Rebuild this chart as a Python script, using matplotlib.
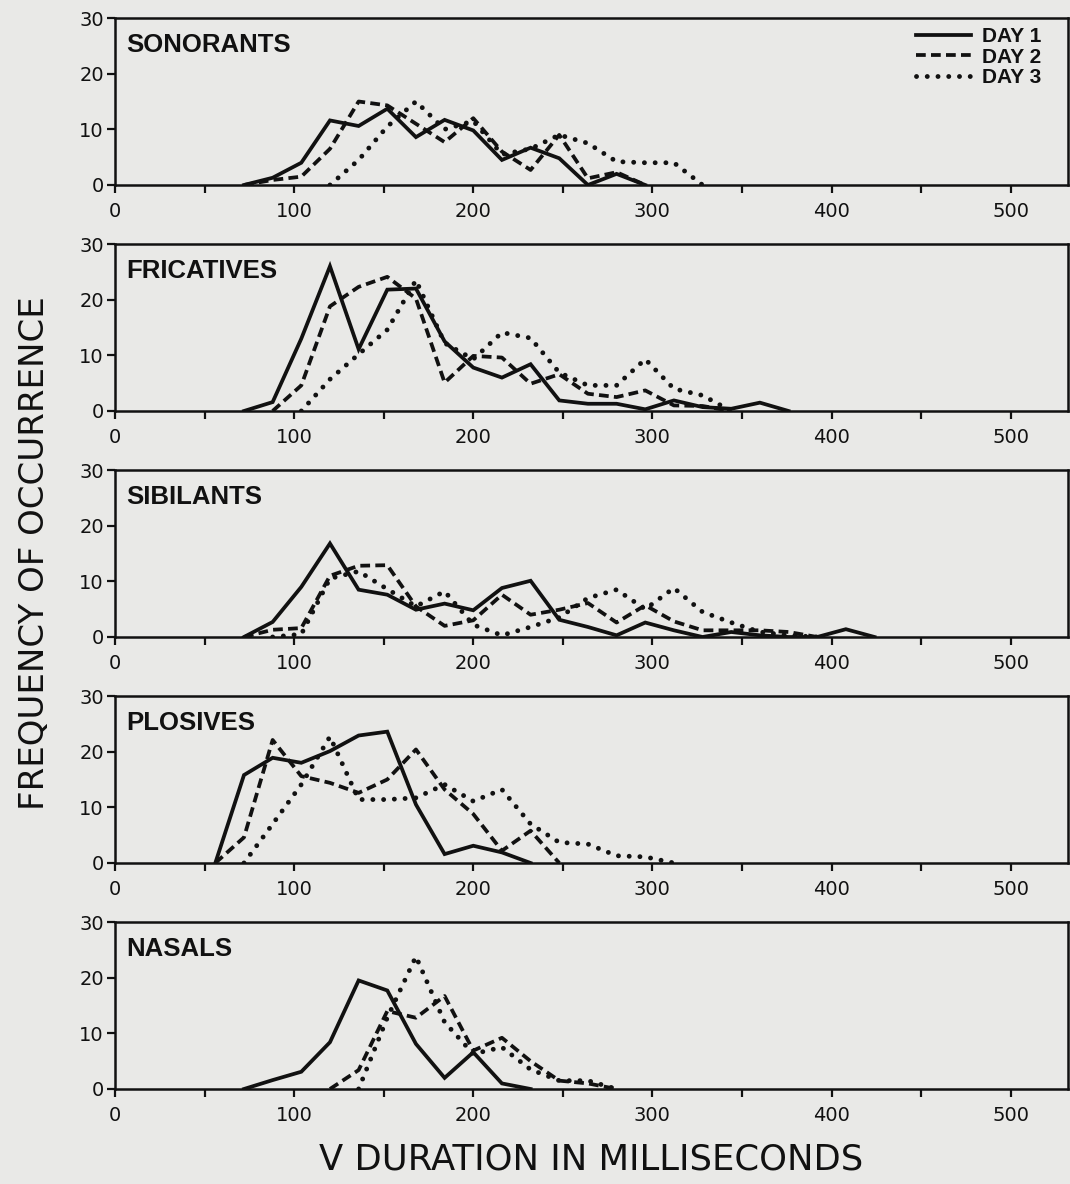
import numpy as np
import matplotlib
matplotlib.use("Agg")
import matplotlib.pyplot as plt
from matplotlib.ticker import MultipleLocator

nan = np.nan

# ---------------- data ----------------
panel_names = ["SONORANTS", "FRICATIVES", "SIBILANTS", "PLOSIVES", "NASALS"]
legend_labels = ["DAY 1", "DAY 2", "DAY 3"]

sonorants_ms = [72, 88, 104, 120, 136, 152, 168, 184, 200, 216, 232, 248, 264, 280, 296, 312, 328]
sonorants_day1 = [0, 1.3, 4.0, 11.6, 10.6, 13.7, 8.6, 11.7, 9.8, 4.5, 6.7, 4.8, 0, 2.0, 0, nan, nan]
sonorants_day2 = [0, 0.9, 1.5, 6.5, 15.0, 14.3, 11.0, 7.7, 12.0, 6.0, 2.7, 9.0, 1.2, 2.3, 0, nan, nan]
sonorants_day3 = [nan, nan, nan, 0, 4.5, 10.5, 15.0, 10.0, 11.5, 5.5, 6.5, 9.0, 7.5, 4.2, 4.0, 4.0, 0]

fricatives_ms = [72, 88, 104, 120, 136, 152, 168, 184, 200, 216, 232, 248, 264, 280, 296, 312, 328, 344, 360, 376]
fricatives_day1 = [0, 1.6, 13.0, 26.0, 11.1, 21.8, 22.0, 12.5, 7.8, 6.0, 8.4, 1.9, 1.3, 1.3, 0.3, 1.9, 0.7, 0.4, 1.5, 0]
fricatives_day2 = [nan, 0, 4.6, 18.8, 22.3, 24.1, 20.2, 5.1, 9.9, 9.6, 4.9, 6.6, 3.1, 2.5, 3.7, 1.0, 0.9, 0, nan, nan]
fricatives_day3 = [nan, nan, 0, 5.7, 10.2, 14.6, 23.5, 12.2, 9.3, 14.1, 13.1, 6.9, 4.6, 4.6, 9.3, 4.0, 2.8, 0, nan, nan]

sibilants_ms = [72, 88, 104, 120, 136, 152, 168, 184, 200, 216, 232, 248, 264, 280, 296, 312, 328, 344, 360, 376, 392, 408, 424]
sibilants_day1 = [0, 2.7, 9.0, 16.8, 8.5, 7.6, 4.9, 6.0, 4.8, 8.8, 10.1, 3.1, 1.8, 0.3, 2.6, 1.2, 0, 0.9, 0.3, 0, 0, 1.4, 0]
sibilants_day2 = [0, 1.3, 1.6, 11.0, 12.8, 12.9, 5.5, 2.0, 3.0, 7.6, 4.0, 4.9, 6.1, 2.6, 5.7, 2.8, 1.2, 1.2, 1.2, 0.9, 0, nan, nan]
sibilants_day3 = [nan, 0, 0.5, 10.5, 11.8, 8.6, 5.5, 8.2, 2.2, 0.3, 1.8, 3.5, 7.0, 8.5, 5.0, 8.8, 4.5, 2.6, 0.9, 0.3, 0, nan, nan]

plosives_ms = [56, 72, 88, 104, 120, 136, 152, 168, 184, 200, 216, 232, 248, 264, 280, 296, 312]
plosives_day1 = [0, 15.8, 18.9, 18.0, 20.1, 22.9, 23.6, 10.5, 1.6, 3.1, 1.9, 0, nan, nan, nan, nan, nan]
plosives_day2 = [0, 4.6, 22.1, 15.6, 14.4, 12.6, 15.0, 20.4, 13.2, 8.8, 2.2, 5.8, 0, nan, nan, nan, nan]
plosives_day3 = [nan, 0, 7.0, 14.1, 22.7, 11.4, 11.4, 11.7, 14.1, 11.1, 13.2, 7.0, 3.7, 3.4, 1.3, 1.1, 0]

nasals_ms = [72, 88, 104, 120, 136, 152, 168, 184, 200, 216, 232, 248, 264, 280]
nasals_day1 = [0, 1.6, 3.1, 8.4, 19.5, 17.7, 8.1, 2.0, 6.6, 1.0, 0, nan, nan, nan]
nasals_day2 = [nan, nan, nan, 0, 3.4, 14.0, 12.8, 16.7, 6.9, 9.2, 5.0, 1.5, 1.0, 0]
nasals_day3 = [nan, nan, nan, nan, 0, 12.8, 23.8, 12.0, 6.3, 7.5, 3.5, 1.5, 1.5, 0]

x_ticks = [0, 100, 200, 300, 400, 500]
y_ticks = [0, 10, 20, 30]

panels = [
    (sonorants_ms, sonorants_day1, sonorants_day2, sonorants_day3),
    (fricatives_ms, fricatives_day1, fricatives_day2, fricatives_day3),
    (sibilants_ms, sibilants_day1, sibilants_day2, sibilants_day3),
    (plosives_ms, plosives_day1, plosives_day2, plosives_day3),
    (nasals_ms, nasals_day1, nasals_day2, nasals_day3),
]

# ---------------- style ----------------
BG = "#e9e9e7"
INK = "#111111"
W, H = 1070, 1184
fig = plt.figure(figsize=(W / 100, H / 100), dpi=100, facecolor=BG)

left_px, right_px = 115, 1068
tops_px = [18, 244, 470, 696, 922]
height_px = 167

styles = [
    dict(linestyle="-", linewidth=2.7, solid_joinstyle="miter"),
    dict(linestyle=(0, (2.6, 1.4)), linewidth=2.7, dash_capstyle="butt"),
    dict(linestyle=(0, (0.01, 2.2)), linewidth=3.5, dash_capstyle="round"),
]

title_font = dict(family=["Liberation Sans", "DejaVu Sans"], weight="bold", size=18.5)
tick_font = dict(family=["DejaVu Sans"], size=14)

for i, (name, data) in enumerate(zip(panel_names, panels)):
    xs = data[0]
    ax = fig.add_axes([left_px / W, 1 - (tops_px[i] + height_px) / H,
                       (right_px - left_px) / W, height_px / H])
    ax.set_facecolor(BG)
    lines = []
    for ys, st in zip(data[1:], styles):
        (ln,) = ax.plot(xs, ys, color=INK, **st)
        lines.append(ln)
    ax.set_xlim(0, 532)
    ax.set_ylim(0, 30)
    ax.set_xticks(x_ticks)
    ax.xaxis.set_minor_locator(MultipleLocator(50))
    ax.set_yticks(y_ticks)
    ax.set_xticklabels([str(v) for v in x_ticks], **tick_font)
    ax.set_yticklabels([str(v) for v in y_ticks], **tick_font)
    ax.tick_params(axis="x", which="both", direction="out", length=6, width=1.6,
                   pad=6, colors=INK)
    ax.tick_params(axis="y", which="both", direction="out", length=6, width=1.6,
                   pad=2, colors=INK)
    for sp in ax.spines.values():
        sp.set_linewidth(1.8)
        sp.set_color(INK)
    ax.annotate(name, xy=(0, 1), xycoords="axes fraction", xytext=(8, -11),
                textcoords="offset points", ha="left", va="top", color=INK,
                **title_font)
    if i == 0:
        leg = ax.legend(lines, legend_labels, loc="upper right",
                        bbox_to_anchor=(1 - 27 / (right_px - left_px), 1 - 9 / height_px),
                        frameon=False, handlelength=2.65, handletextpad=0.5,
                        labelspacing=0.08, borderaxespad=0, borderpad=0,
                        prop=dict(family=["Liberation Sans", "DejaVu Sans"],
                                  weight="bold", size=15))
        for t in leg.get_texts():
            t.set_color(INK)

fig.text(0.032, (1 - (tops_px[0] + tops_px[-1] + height_px) / 2 / H),
         "FREQUENCY OF OCCURRENCE", rotation=90, ha="center", va="center",
         fontsize=24.5, family=["DejaVu Sans"], color=INK)
fig.text((left_px + right_px) / 2 / W, 1 - 1160 / H,
         "V DURATION IN MILLISECONDS", ha="center", va="center",
         fontsize=25.5, family=["DejaVu Sans"], color=INK)

fig.savefig("out.png", dpi=100, facecolor=BG)
